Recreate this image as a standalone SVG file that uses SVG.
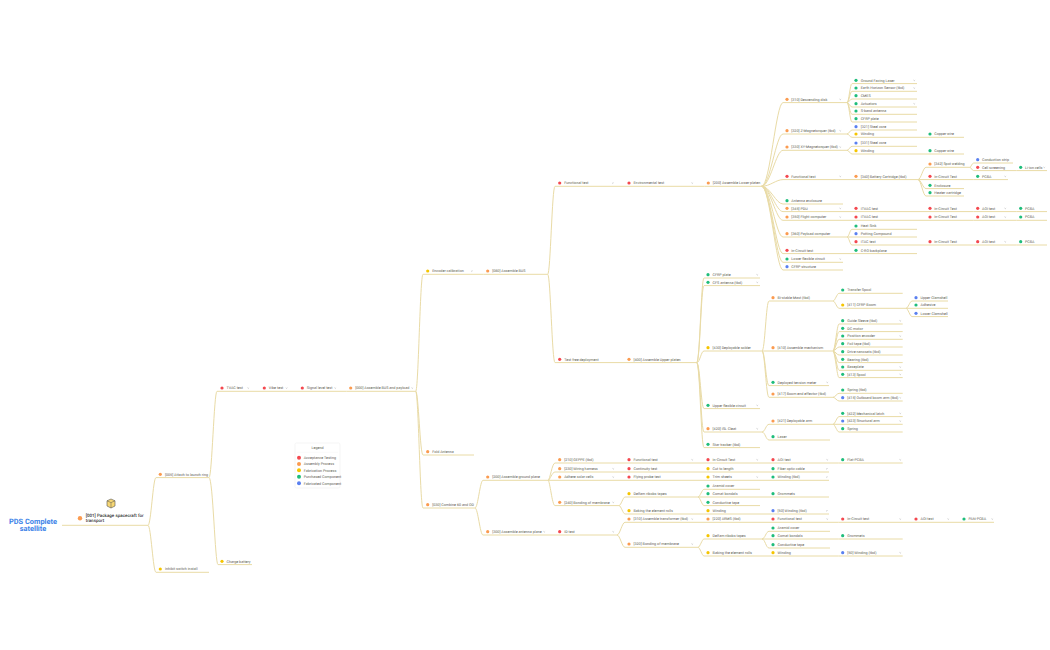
<svg xmlns="http://www.w3.org/2000/svg" width="1050" height="650" viewBox="0 0 1050 650">
<style>
text{font-family:Roboto,"Liberation Sans",sans-serif;font-size:3.7px;fill:#5f5f55;text-rendering:geometricPrecision}
path{fill:none}
.u,#connectors path{stroke:#e9dba6;stroke-width:1}
.c{stroke:#999;stroke-width:.45}
.r{fill:#f4484f}.o{fill:#fb9b50}.y{fill:#f5c500}.g{fill:#1fbd7b}.b{fill:#5a80f0}
#title text{font-size:7.4px;font-weight:700;fill:#3b82e8;text-anchor:middle}
#n001 text{font-size:4.5px;fill:#333;font-weight:500}
#box{fill:#f7d774;stroke:#555;stroke-width:.6}
#boxl{stroke:#555;stroke-width:.5}
</style>
<rect width="1050" height="650" fill="#fff"/>
<g id="connectors">
<path d="M148 525.3C151 525.3 153 477.6 156 477.6M148 525.3C151 525.3 153 572.3 156 572.3"/>
<path d="M209 477.6C212 477.6 214 391.3 217 391.3M209 477.6C213 477.6 215 564.6 218 564.6"/>
<path d="M415.7 391.3C418.5 391.3 420 274.3 423 274.3M415.7 391.3C418.5 391.3 420 455 423 455M415.7 391.3C418.5 391.3 420 508 423 508"/>
<path d="M547.7 274.3C550.5 274.3 552 186.3 555 186.3M547.7 274.3C550.5 274.3 552 362.6 555 362.6"/>
<path d="M761.7 186.3C770 186.3 776 102.6 783 102.6M761.7 186.3C770 186.3 776 134 783 134M761.7 186.3C770 186.3 776 150.3 783 150.3M761.7 186.3C770 186.3 776 179.6 783 179.6M761.7 186.3C770 186.3 776 204 783 204M761.7 186.3C770 186.3 776 211.6 783 211.6M761.7 186.3C770 186.3 776 220.3 783 220.3M761.7 186.3C770 186.3 776 237 783 237M761.7 186.3C770 186.3 776 253.6 783 253.6M761.7 186.3C770 186.3 776 262.3 783 262.3M761.7 186.3C770 186.3 776 270 783 270"/>
<path d="M847 102.6C849 102.6 850 83.6 852 83.6M847 102.6C849 102.6 850 91.3 852 91.3M847 102.6C849 102.6 850 99 852 99M847 102.6C849 102.6 850 107 852 107M847 102.6C849 102.6 850 114.3 852 114.3M847 102.6C849 102.6 850 122 852 122"/>
<path d="M847 134C849 134 850 130 852 130M847 134C849 134 850 137.3 852 137.3M847 150.3C849 150.3 850 146.3 852 146.3M847 150.3C849 150.3 850 154 852 154"/>
<path d="M918 179.6C921 179.6 923 167.3 926 167.3M918 179.6H926M918 179.6C921 179.6 923 188.6 926 188.6M918 179.6C921 179.6 923 196 926 196"/>
<path d="M970 167.3C971 167.3 972 163 973.7 163M970 167.3C971 167.3 972 170.6 973.7 170.6"/>
<path d="M847 237C849 237 850 229.3 852 229.3M847 237H852M847 237C849 237 850 245 852 245"/>
<path d="M696.7 362.6C700 362.6 701 278 704 278M696.7 362.6C700 362.6 701 285.6 704 285.6M696.7 362.6C700 362.6 701 351 704 351M696.7 362.6C700 362.6 701 408.6 704 408.6M696.7 362.6C700 362.6 701 432 704 432M696.7 362.6C700 362.6 701 447.6 704 447.6"/>
<path d="M762 351C765 351 766 301 769 301M762 351H769M762 351C765 351 766 385.6 769 385.6M762 351C765 351 766 397.3 769 397.3"/>
<path d="M833 301C835 301 837 293.3 839 293.3M833 301C835 301 837 308.3 839 308.3"/>
<path d="M906 308.3C908 308.3 910 301 912 301M906 308.3H912M906 308.3C908 308.3 910 316.6 912 316.6"/>
<path d="M833 351C835 351 837 324 839 324M833 351C835 351 837 331.6 839 331.6M833 351C835 351 837 339.3 839 339.3M833 351C835 351 837 347 839 347M833 351C835 351 837 355 839 355M833 351C835 351 837 362.6 839 362.6M833 351C835 351 837 370.3 839 370.3M833 351C835 351 837 377.6 839 377.6"/>
<path d="M833 397.3C835 397.3 837 393.3 839 393.3M833 397.3C835 397.3 837 401 839 401"/>
<path d="M762 432C765 432 766 424.3 769 424.3M762 432C765 432 766 440 769 440"/>
<path d="M833 424.3C835 424.3 837 416.6 839 416.6M833 424.3H839M833 424.3C835 424.3 837 432 839 432"/>
<path d="M475 508C478 508 480 480.3 483 480.3M475 508C478 508 480 535 483 535"/>
<path d="M548 480.3C550 480.3 552 463 555 463M548 480.3C550 480.3 552 472 555 472M548 480.3H555M548 480.3C550 480.3 552 505.6 555 505.6"/>
<path d="M619 505.6C621 505.6 623 497 625 497M619 505.6C621 505.6 623 514 625 514"/>
<path d="M698 497C700 497 702 489.3 704 489.3M698 497H704M698 497C700 497 702 505.6 704 505.6"/>
<path d="M617 535C620 535 622 522.3 625 522.3M617 535C620 535 622 547.3 625 547.3"/>
<path d="M698 547.3C700 547.3 702 539 704 539M698 547.3C700 547.3 702 556 704 556"/>
<path d="M762 539C765 539 766 531.3 769 531.3M762 539H769M762 539C765 539 766 548 769 548"/>
</g>
<g id="title"><text x="33" y="523.5">PDS Complete</text><text x="33" y="531">satellite</text></g>
<g id="n001"><path class="u" d="M62 525.3H148"/><path id="box" d="M107 500.8L111 499 115 500.8V506L111 508 107 506Z"/><path id="boxl" d="M107 500.8L111 502.6 115 500.8M111 502.6V508"/><circle class="o" cx="80" cy="518.3" r="2.2"/><text x="85.7" y="516.8">[001] Package spacecraft for</text><text x="85.7" y="522">transport</text></g>
<g id="nodes">
<g id="n2"><path class="u" d="M156 477.6H209"/><circle class="o" cx="160.3" cy="474.3" r="1.6"/><text x="165" y="475.5">[005] Attach to launch ring</text></g>
<g id="n3"><path class="u" d="M156 572.3H209"/><circle class="y" cx="160.3" cy="569" r="1.6"/><text x="165" y="570.2">Inhibit switch install</text></g>
<g id="n4"><path class="u" d="M218 564.6H252"/><circle class="y" cx="222" cy="561.3" r="1.6"/><text x="226.5" y="562.5">Charge battery</text></g>
<g id="n5"><path class="u" d="M217 391.3H260"/><circle class="r" cx="222" cy="388" r="1.6"/><text x="226.5" y="389.2">TVAC test</text><path class="c" d="M247.5 387.7l.8.7.8-.7"/></g>
<g id="n6"><path class="u" d="M260 391.3H298"/><circle class="r" cx="264.3" cy="388" r="1.6"/><text x="268.8" y="389.2">Vibe test</text><path class="c" d="M285.8 387.7l.8.7.8-.7"/></g>
<g id="n7"><path class="u" d="M298 391.3H346.7"/><circle class="r" cx="302.3" cy="388" r="1.6"/><text x="306.8" y="389.2">Signal level test</text><path class="c" d="M334.5 387.7l.8.7.8-.7"/></g>
<g id="n8"><path class="u" d="M346.7 391.3H415.7"/><circle class="o" cx="350.7" cy="388" r="1.6"/><text x="355.2" y="389.2">[000] Assemble BUS and payload</text><path class="c" d="M411.5 387.7l.8.7.8-.7"/></g>
<g id="n9"><path class="u" d="M423 274.3H483.7"/><circle class="y" cx="427.7" cy="271" r="1.6"/><text x="432.2" y="272.2">Encoder calibration</text><path class="c" d="M471 270.7l.8.7.8-.7"/></g>
<g id="n10"><path class="u" d="M423 455H474"/><circle class="o" cx="427.7" cy="451.7" r="1.6"/><text x="432.2" y="452.9">Fold Antenna</text></g>
<g id="n11"><path class="u" d="M423 508H475"/><circle class="o" cx="427.7" cy="504.7" r="1.6"/><text x="432.2" y="505.9">[030] Combine 60 and OD</text></g>
<g id="n12"><path class="u" d="M483.7 274.3H547.7"/><circle class="o" cx="487.7" cy="271" r="1.6"/><text x="492.2" y="272.2">[080] Assemble BUS</text></g>
<g id="n13"><path class="u" d="M555 186.3H625"/><circle class="r" cx="559.7" cy="183" r="1.6"/><text x="564.2" y="184.2">Functional test</text><path class="c" d="M612 182.7l.8.7.8-.7"/></g>
<g id="n14"><path class="u" d="M625 186.3H704.3"/><circle class="r" cx="629" cy="183" r="1.6"/><text x="633.5" y="184.2">Environmental test</text><path class="c" d="M691.5 182.7l.8.7.8-.7"/></g>
<g id="n15"><path class="u" d="M704.3 186.3H761.7"/><circle class="o" cx="708.3" cy="183" r="1.6"/><text x="712.8" y="184.2">[200] Assemble Lower platen</text></g>
<g id="n16"><path class="u" d="M555 362.6H625"/><circle class="r" cx="559.7" cy="359.3" r="1.6"/><text x="564.2" y="360.5">Test free deployment</text></g>
<g id="n17"><path class="u" d="M625 362.6H696.7"/><circle class="o" cx="629" cy="359.3" r="1.6"/><text x="633.5" y="360.5">[400] Assemble Upper platen</text></g>
<g id="n18"><path class="u" d="M783 102.6H847"/><circle class="o" cx="787" cy="99.3" r="1.6"/><text x="791.3" y="100.5">[310] Descending disk</text><path class="c" d="M839.5 99l.8.7.8-.7"/></g>
<g id="n19"><path class="u" d="M852 83.6H917"/><circle class="g" cx="856" cy="80.3" r="1.6"/><text x="860.7" y="81.5">Ground Facing Laser</text><path class="c" d="M913.5 80l.8.7.8-.7"/></g>
<g id="n20"><path class="u" d="M852 91.3H917"/><circle class="g" cx="856" cy="88" r="1.6"/><text x="860.7" y="89.2">Earth Horizon Sensor (tbd)</text><path class="c" d="M913.5 87.7l.8.7.8-.7"/></g>
<g id="n21"><path class="u" d="M852 99H917"/><circle class="g" cx="856" cy="95.7" r="1.6"/><text x="860.7" y="96.9">CMES</text></g>
<g id="n22"><path class="u" d="M852 107H917"/><circle class="g" cx="856" cy="103.7" r="1.6"/><text x="860.7" y="104.9">Actuators</text><path class="c" d="M913.5 103.4l.8.7.8-.7"/></g>
<g id="n23"><path class="u" d="M852 114.3H917"/><circle class="g" cx="856" cy="111" r="1.6"/><text x="860.7" y="112.2">S-band antenna</text></g>
<g id="n24"><path class="u" d="M852 122H917"/><circle class="g" cx="856" cy="118.7" r="1.6"/><text x="860.7" y="119.9">CFRP plate</text></g>
<g id="n25"><path class="u" d="M783 134H847"/><circle class="o" cx="787" cy="130.7" r="1.6"/><text x="791.3" y="131.9">[320] Z-Magnetorquer (tbd)</text><path class="c" d="M839.5 130.4l.8.7.8-.7"/></g>
<g id="n26"><path class="u" d="M852 130H917"/><circle class="b" cx="856" cy="126.7" r="1.6"/><text x="860.7" y="127.9">[321] Steel core</text></g>
<g id="n27"><path class="u" d="M852 137.3H926"/><circle class="y" cx="856" cy="134" r="1.6"/><text x="860.7" y="135.2">Winding</text></g>
<g id="n28"><path class="u" d="M926 137.3H964"/><circle class="g" cx="930" cy="134" r="1.6"/><text x="934.3" y="135.2">Copper wire</text></g>
<g id="n29"><path class="u" d="M783 150.3H847"/><circle class="o" cx="787" cy="147" r="1.6"/><text x="791.3" y="148.2">[330] XY-Magnetorquer (tbd)</text><path class="c" d="M839.5 146.7l.8.7.8-.7"/></g>
<g id="n30"><path class="u" d="M852 146.3H917"/><circle class="b" cx="856" cy="143" r="1.6"/><text x="860.7" y="144.2">[331] Steel core</text></g>
<g id="n31"><path class="u" d="M852 154H926"/><circle class="y" cx="856" cy="150.7" r="1.6"/><text x="860.7" y="151.9">Winding</text></g>
<g id="n32"><path class="u" d="M926 154H964"/><circle class="g" cx="930" cy="150.7" r="1.6"/><text x="934.3" y="151.9">Copper wire</text></g>
<g id="n33"><path class="u" d="M783 179.6H852"/><circle class="r" cx="787" cy="176.3" r="1.6"/><text x="791.3" y="177.5">Functional test</text><path class="c" d="M839.5 176l.8.7.8-.7"/></g>
<g id="n34"><path class="u" d="M852 179.6H918"/><circle class="o" cx="856" cy="176.3" r="1.6"/><text x="860.7" y="177.5">[340] Battery Cartridge (tbd)</text></g>
<g id="n35"><path class="u" d="M926 167.3H970"/><circle class="o" cx="930" cy="164" r="1.6"/><text x="934.3" y="165.2">[342] Spot welding</text></g>
<g id="n36"><path class="u" d="M973.7 163H1013"/><circle class="b" cx="977.7" cy="159.7" r="1.6"/><text x="982" y="160.9">Conduction strip</text></g>
<g id="n37"><path class="u" d="M973.7 170.6H1016.7"/><circle class="r" cx="977.7" cy="167.3" r="1.6"/><text x="982" y="168.5">Cell screening</text></g>
<g id="n38"><path class="u" d="M1016.7 170.6H1047"/><circle class="g" cx="1020.7" cy="167.3" r="1.6"/><text x="1025" y="168.5">Li-ion cells</text><path class="c" d="M1043.5 167l.8.7.8-.7"/></g>
<g id="n39"><path class="u" d="M926 179.6H973.7"/><circle class="r" cx="930" cy="176.3" r="1.6"/><text x="934.3" y="177.5">In-Circuit Test</text></g>
<g id="n40"><path class="u" d="M973.7 179.6H1008"/><circle class="g" cx="977.7" cy="176.3" r="1.6"/><text x="982" y="177.5">PCBA</text><path class="c" d="M1004.5 176l.8.7.8-.7"/></g>
<g id="n41"><path class="u" d="M926 188.6H964"/><circle class="g" cx="930" cy="185.3" r="1.6"/><text x="934.3" y="186.5">Enclosure</text></g>
<g id="n42"><path class="u" d="M926 196H964"/><circle class="g" cx="930" cy="192.7" r="1.6"/><text x="934.3" y="193.9">Heater cartridge</text></g>
<g id="n43"><path class="u" d="M783 204H843"/><circle class="g" cx="787" cy="200.7" r="1.6"/><text x="791.3" y="201.9">Antenna enclosure</text></g>
<g id="n44"><path class="u" d="M783 211.6H852"/><circle class="o" cx="787" cy="208.3" r="1.6"/><text x="791.3" y="209.5">[345] PDU</text><path class="c" d="M839.5 208l.8.7.8-.7"/></g>
<g id="n45"><path class="u" d="M852 211.6H926"/><circle class="r" cx="856" cy="208.3" r="1.6"/><text x="860.7" y="209.5">ITVAC test</text></g>
<g id="n46"><path class="u" d="M926 211.6H973.7"/><circle class="r" cx="930" cy="208.3" r="1.6"/><text x="934.3" y="209.5">In-Circuit Test</text></g>
<g id="n47"><path class="u" d="M973.7 211.6H1016.7"/><circle class="r" cx="977.7" cy="208.3" r="1.6"/><text x="982" y="209.5">AOI test</text><path class="c" d="M1004.5 208l.8.7.8-.7"/></g>
<g id="n48"><path class="u" d="M1016.7 211.6H1047"/><circle class="g" cx="1020.7" cy="208.3" r="1.6"/><text x="1025" y="209.5">PCBA</text></g>
<g id="n49"><path class="u" d="M783 220.3H852"/><circle class="o" cx="787" cy="217" r="1.6"/><text x="791.3" y="218.2">[350] Flight computer</text><path class="c" d="M839.5 216.7l.8.7.8-.7"/></g>
<g id="n50"><path class="u" d="M852 220.3H926"/><circle class="r" cx="856" cy="217" r="1.6"/><text x="860.7" y="218.2">ITVAC test</text></g>
<g id="n51"><path class="u" d="M926 220.3H973.7"/><circle class="r" cx="930" cy="217" r="1.6"/><text x="934.3" y="218.2">In-Circuit Test</text></g>
<g id="n52"><path class="u" d="M973.7 220.3H1016.7"/><circle class="r" cx="977.7" cy="217" r="1.6"/><text x="982" y="218.2">AOI test</text><path class="c" d="M1004.5 216.7l.8.7.8-.7"/></g>
<g id="n53"><path class="u" d="M1016.7 220.3H1047"/><circle class="g" cx="1020.7" cy="217" r="1.6"/><text x="1025" y="218.2">PCBA</text></g>
<g id="n54"><path class="u" d="M783 237H847"/><circle class="o" cx="787" cy="233.7" r="1.6"/><text x="791.3" y="234.9">[360] Payload computer</text></g>
<g id="n55"><path class="u" d="M852 229.3H917"/><circle class="g" cx="856" cy="226" r="1.6"/><text x="860.7" y="227.2">Heat Sink</text></g>
<g id="n56"><path class="u" d="M852 237H917"/><circle class="b" cx="856" cy="233.7" r="1.6"/><text x="860.7" y="234.9">Potting Compound</text></g>
<g id="n57"><path class="u" d="M852 245H926"/><circle class="r" cx="856" cy="241.7" r="1.6"/><text x="860.7" y="242.9">ITAC test</text></g>
<g id="n58"><path class="u" d="M926 245H973.7"/><circle class="r" cx="930" cy="241.7" r="1.6"/><text x="934.3" y="242.9">In-Circuit Test</text></g>
<g id="n59"><path class="u" d="M973.7 245H1016.7"/><circle class="r" cx="977.7" cy="241.7" r="1.6"/><text x="982" y="242.9">AOI test</text><path class="c" d="M1004.5 241.4l.8.7.8-.7"/></g>
<g id="n60"><path class="u" d="M1016.7 245H1047"/><circle class="g" cx="1020.7" cy="241.7" r="1.6"/><text x="1025" y="242.9">PCBA</text></g>
<g id="n61"><path class="u" d="M783 253.6H852"/><circle class="r" cx="787" cy="250.3" r="1.6"/><text x="791.3" y="251.5">In-Circuit test</text></g>
<g id="n62"><path class="u" d="M852 253.6H917"/><circle class="g" cx="856" cy="250.3" r="1.6"/><text x="860.7" y="251.5">C-RO backplane</text></g>
<g id="n63"><path class="u" d="M783 262.3H843"/><circle class="g" cx="787" cy="259" r="1.6"/><text x="791.3" y="260.2">Lower flexible circuit</text><path class="c" d="M839.5 258.7l.8.7.8-.7"/></g>
<g id="n64"><path class="u" d="M783 270H843"/><circle class="b" cx="787" cy="266.7" r="1.6"/><text x="791.3" y="267.9">CFRP structure</text></g>
<g id="n65"><path class="u" d="M704 278H760"/><circle class="g" cx="708" cy="274.7" r="1.6"/><text x="712.6" y="275.9">CFRP plate</text><path class="c" d="M756.5 274.4l.8.7.8-.7"/></g>
<g id="n66"><path class="u" d="M704 285.6H760"/><circle class="g" cx="708" cy="282.3" r="1.6"/><text x="712.6" y="283.5">CFS antenna (tbd)</text><path class="c" d="M756.5 282l.8.7.8-.7"/></g>
<g id="n67"><path class="u" d="M704 351H762"/><circle class="y" cx="708" cy="347.7" r="1.6"/><text x="712.6" y="348.9">[430] Deployable solder</text></g>
<g id="n68"><path class="u" d="M769 301H833"/><circle class="o" cx="773" cy="297.7" r="1.6"/><text x="777.6" y="298.9">Bi-stable Mast (tbd)</text></g>
<g id="n69"><path class="u" d="M839 293.3H902.7"/><circle class="g" cx="842.7" cy="290" r="1.6"/><text x="847.3" y="291.2">Transfer Spool</text></g>
<g id="n70"><path class="u" d="M839 308.3H906"/><circle class="y" cx="842.7" cy="305" r="1.6"/><text x="847.3" y="306.2">[411] CFRP Boom</text></g>
<g id="n71"><path class="u" d="M912 301H948"/><circle class="b" cx="916" cy="297.7" r="1.6"/><text x="920.5" y="298.9">Upper Clamshell</text></g>
<g id="n72"><path class="u" d="M912 308.3H948"/><circle class="g" cx="916" cy="305" r="1.6"/><text x="920.5" y="306.2">Adhesive</text></g>
<g id="n73"><path class="u" d="M912 316.6H948"/><circle class="b" cx="916" cy="313.3" r="1.6"/><text x="920.5" y="314.5">Lower Clamshell</text></g>
<g id="n74"><path class="u" d="M769 351H833"/><circle class="o" cx="773" cy="347.7" r="1.6"/><text x="777.6" y="348.9">[410] Assemble mechanism</text></g>
<g id="n75"><path class="u" d="M839 324H902.7"/><circle class="g" cx="842.7" cy="320.7" r="1.6"/><text x="847.3" y="321.9">Guide Sleeve (tbd)</text><path class="c" d="M899.5 320.4l.8.7.8-.7"/></g>
<g id="n76"><path class="u" d="M839 331.6H902.7"/><circle class="g" cx="842.7" cy="328.3" r="1.6"/><text x="847.3" y="329.5">DC motor</text></g>
<g id="n77"><path class="u" d="M839 339.3H902.7"/><circle class="g" cx="842.7" cy="336" r="1.6"/><text x="847.3" y="337.2">Position encoder</text><path class="c" d="M899.5 335.7l.8.7.8-.7"/></g>
<g id="n78"><path class="u" d="M839 347H902.7"/><circle class="g" cx="842.7" cy="343.7" r="1.6"/><text x="847.3" y="344.9">Foil tape (tbd)</text></g>
<g id="n79"><path class="u" d="M839 355H902.7"/><circle class="g" cx="842.7" cy="351.7" r="1.6"/><text x="847.3" y="352.9">Drive nanosats (tbd)</text></g>
<g id="n80"><path class="u" d="M839 362.6H902.7"/><circle class="g" cx="842.7" cy="359.3" r="1.6"/><text x="847.3" y="360.5">Bearing (tbd)</text></g>
<g id="n81"><path class="u" d="M839 370.3H902.7"/><circle class="g" cx="842.7" cy="367" r="1.6"/><text x="847.3" y="368.2">Baseplate</text><path class="c" d="M899.5 366.7l.8.7.8-.7"/></g>
<g id="n82"><path class="u" d="M839 377.6H902.7"/><circle class="g" cx="842.7" cy="374.3" r="1.6"/><text x="847.3" y="375.5">[413] Spool</text><path class="c" d="M899.5 374l.8.7.8-.7"/></g>
<g id="n83"><path class="u" d="M769 385.6H829"/><circle class="g" cx="773" cy="382.3" r="1.6"/><text x="777.6" y="383.5">Deployed tension meter</text><path class="c" d="M826.5 382l.8.7.8-.7"/></g>
<g id="n84"><path class="u" d="M769 397.3H833"/><circle class="o" cx="773" cy="394" r="1.6"/><text x="777.6" y="395.2">[417] Boom end effector (tbd)</text></g>
<g id="n85"><path class="u" d="M839 393.3H902.7"/><circle class="g" cx="842.7" cy="390" r="1.6"/><text x="847.3" y="391.2">Spring (tbd)</text></g>
<g id="n86"><path class="u" d="M839 401H902.7"/><circle class="b" cx="842.7" cy="397.7" r="1.6"/><text x="847.3" y="398.9">[415] Outboard boom arm (tbd)</text><path class="c" d="M899.5 397.4l.8.7.8-.7"/></g>
<g id="n87"><path class="u" d="M704 408.6H760"/><circle class="g" cx="708" cy="405.3" r="1.6"/><text x="712.6" y="406.5">Upper flexible circuit</text><path class="c" d="M756.5 405l.8.7.8-.7"/></g>
<g id="n88"><path class="u" d="M704 432H762"/><circle class="o" cx="708" cy="428.7" r="1.6"/><text x="712.6" y="429.9">[420] ISL Cleat</text><path class="c" d="M756.5 428.4l.8.7.8-.7"/></g>
<g id="n89"><path class="u" d="M769 424.3H833"/><circle class="o" cx="773" cy="421" r="1.6"/><text x="777.6" y="422.2">[421] Deployable arm</text></g>
<g id="n90"><path class="u" d="M769 440H830"/><circle class="g" cx="773" cy="436.7" r="1.6"/><text x="777.6" y="437.9">Laser</text></g>
<g id="n91"><path class="u" d="M839 416.6H902.7"/><circle class="g" cx="842.7" cy="413.3" r="1.6"/><text x="847.3" y="414.5">[422] Mechanical latch</text><path class="c" d="M899.5 413l.8.7.8-.7"/></g>
<g id="n92"><path class="u" d="M839 424.3H902.7"/><circle class="b" cx="842.7" cy="421" r="1.6"/><text x="847.3" y="422.2">[423] Structural arm</text><path class="c" d="M899.5 420.7l.8.7.8-.7"/></g>
<g id="n93"><path class="u" d="M839 432H902.7"/><circle class="g" cx="842.7" cy="428.7" r="1.6"/><text x="847.3" y="429.9">Spring</text></g>
<g id="n94"><path class="u" d="M704 447.6H760"/><circle class="g" cx="708" cy="444.3" r="1.6"/><text x="712.6" y="445.5">Star tracker (tbd)</text></g>
<g id="n95"><path class="u" d="M483 480.3H548"/><circle class="o" cx="487.7" cy="477" r="1.6"/><text x="492.2" y="478.2">[200] Assemble ground plane</text></g>
<g id="n96"><path class="u" d="M483 535H617"/><circle class="o" cx="487.7" cy="531.7" r="1.6"/><text x="492.2" y="532.9">[300] Assemble antenna plane</text><path class="c" d="M543.5 531.4l.8.7.8-.7"/></g>
<g id="n97"><path class="u" d="M555 463H625"/><circle class="o" cx="559.7" cy="459.7" r="1.6"/><text x="564.2" y="460.9">[210] GEPPE (tbd)</text></g>
<g id="n98"><path class="u" d="M555 472H625"/><circle class="o" cx="559.7" cy="468.7" r="1.6"/><text x="564.2" y="469.9">[230] Wiring harness</text><path class="c" d="M612.5 468.4l.8.7.8-.7"/></g>
<g id="n99"><path class="u" d="M555 480.3H625"/><circle class="o" cx="559.7" cy="477" r="1.6"/><text x="564.2" y="478.2">Adhere solar cells</text><path class="c" d="M612.5 476.7l.8.7.8-.7"/></g>
<g id="n100"><path class="u" d="M555 505.6H619"/><circle class="o" cx="559.7" cy="502.3" r="1.6"/><text x="564.2" y="503.5">[240] Bonding of membrane</text><path class="c" d="M612.5 502l.8.7.8-.7"/></g>
<g id="n101"><circle class="r" cx="559.7" cy="531.7" r="1.6"/><text x="564.2" y="532.9">ID test</text><path class="c" d="M612.5 531.4l.8.7.8-.7"/></g>
<g id="n102"><path class="u" d="M625 463H704"/><circle class="r" cx="629" cy="459.7" r="1.6"/><text x="633.5" y="460.9">Functional test</text><path class="c" d="M691.5 459.4l.8.7.8-.7"/></g>
<g id="n103"><path class="u" d="M704 463H769"/><circle class="r" cx="708" cy="459.7" r="1.6"/><text x="712.6" y="460.9">In-Circuit Test</text><path class="c" d="M756.5 459.4l.8.7.8-.7"/></g>
<g id="n104"><path class="u" d="M769 463H838.7"/><circle class="r" cx="773" cy="459.7" r="1.6"/><text x="777.6" y="460.9">AOI test</text><path class="c" d="M826.5 459.4l.8.7.8-.7"/></g>
<g id="n105"><path class="u" d="M838.7 463H902.7"/><circle class="g" cx="842.7" cy="459.7" r="1.6"/><text x="847.3" y="460.9">Flat-PCBA</text><path class="c" d="M899.5 459.4l.8.7.8-.7"/></g>
<g id="n106"><path class="u" d="M625 472H704"/><circle class="r" cx="629" cy="468.7" r="1.6"/><text x="633.5" y="469.9">Continuity test</text></g>
<g id="n107"><path class="u" d="M704 472H769"/><circle class="y" cx="708" cy="468.7" r="1.6"/><text x="712.6" y="469.9">Cut to length</text></g>
<g id="n108"><path class="u" d="M769 472H829"/><circle class="g" cx="773" cy="468.7" r="1.6"/><text x="777.6" y="469.9">Fiber optic cable</text><path class="c" d="M826 468.4l.8.7.8-.7"/></g>
<g id="n109"><path class="u" d="M625 480.3H704"/><circle class="r" cx="629" cy="477" r="1.6"/><text x="633.5" y="478.2">Flying probe test</text></g>
<g id="n110"><path class="u" d="M704 480.3H769"/><circle class="y" cx="708" cy="477" r="1.6"/><text x="712.6" y="478.2">Trim sheets</text><path class="c" d="M756.5 476.7l.8.7.8-.7"/></g>
<g id="n111"><path class="u" d="M769 480.3H829"/><circle class="g" cx="773" cy="477" r="1.6"/><text x="777.6" y="478.2">Winding (tbd)</text><path class="c" d="M826 476.7l.8.7.8-.7"/></g>
<g id="n112"><path class="u" d="M625 497H698"/><circle class="y" cx="629" cy="493.7" r="1.6"/><text x="633.5" y="494.9">Delfam ribobs tapes</text></g>
<g id="n113"><path class="u" d="M704 489.3H760"/><circle class="g" cx="708" cy="486" r="1.6"/><text x="712.6" y="487.2">Aramid cover</text></g>
<g id="n114"><path class="u" d="M704 497H769"/><circle class="g" cx="708" cy="493.7" r="1.6"/><text x="712.6" y="494.9">Comat bondals</text></g>
<g id="n115"><path class="u" d="M769 497H829"/><circle class="g" cx="773" cy="493.7" r="1.6"/><text x="777.6" y="494.9">Grommets</text></g>
<g id="n116"><path class="u" d="M704 505.6H760"/><circle class="g" cx="708" cy="502.3" r="1.6"/><text x="712.6" y="503.5">Conductive tape</text></g>
<g id="n117"><path class="u" d="M625 514H704"/><circle class="y" cx="629" cy="510.7" r="1.6"/><text x="633.5" y="511.9">Baking the element rolls</text></g>
<g id="n118"><path class="u" d="M704 514H769"/><circle class="y" cx="708" cy="510.7" r="1.6"/><text x="712.6" y="511.9">Winding</text></g>
<g id="n119"><path class="u" d="M769 514H829"/><circle class="b" cx="773" cy="510.7" r="1.6"/><text x="777.6" y="511.9">[50] Winding (tbd)</text><path class="c" d="M826 510.4l.8.7.8-.7"/></g>
<g id="n120"><path class="u" d="M625 522.3H704"/><circle class="o" cx="629" cy="519" r="1.6"/><text x="633.5" y="520.2">[310] Assemble transformer (tbd)</text><path class="c" d="M691.5 518.7l.8.7.8-.7"/></g>
<g id="n121"><path class="u" d="M704 522.3H769"/><circle class="o" cx="708" cy="519" r="1.6"/><text x="712.6" y="520.2">[220] ARMS (tbd)</text></g>
<g id="n122"><path class="u" d="M769 522.3H838.7"/><circle class="r" cx="773" cy="519" r="1.6"/><text x="777.6" y="520.2">Functional test</text><path class="c" d="M826.5 518.7l.8.7.8-.7"/></g>
<g id="n123"><path class="u" d="M838.7 522.3H912"/><circle class="r" cx="842.7" cy="519" r="1.6"/><text x="847.3" y="520.2">In-Circuit test</text><path class="c" d="M899.5 518.7l.8.7.8-.7"/></g>
<g id="n124"><path class="u" d="M912 522.3H960"/><circle class="r" cx="916" cy="519" r="1.6"/><text x="920.5" y="520.2">AOI test</text><path class="c" d="M947.5 518.7l.8.7.8-.7"/></g>
<g id="n125"><path class="u" d="M960 522.3H994"/><circle class="g" cx="964" cy="519" r="1.6"/><text x="968.5" y="520.2">PAN-PCBA</text><path class="c" d="M991.5 518.7l.8.7.8-.7"/></g>
<g id="n126"><path class="u" d="M625 547.3H698"/><circle class="o" cx="629" cy="544" r="1.6"/><text x="633.5" y="545.2">[320] Bonding of membrane</text><path class="c" d="M691.5 543.7l.8.7.8-.7"/></g>
<g id="n127"><path class="u" d="M704 539H762"/><circle class="y" cx="708" cy="535.7" r="1.6"/><text x="712.6" y="536.9">Delfam ribobs tapes</text></g>
<g id="n128"><path class="u" d="M769 531.3H830"/><circle class="g" cx="773" cy="528" r="1.6"/><text x="777.6" y="529.2">Aramid cover</text></g>
<g id="n129"><path class="u" d="M769 539H838.7"/><circle class="g" cx="773" cy="535.7" r="1.6"/><text x="777.6" y="536.9">Comat bondals</text></g>
<g id="n130"><path class="u" d="M838.7 539H902.7"/><circle class="g" cx="842.7" cy="535.7" r="1.6"/><text x="847.3" y="536.9">Grommets</text></g>
<g id="n131"><path class="u" d="M769 548H830"/><circle class="g" cx="773" cy="544.7" r="1.6"/><text x="777.6" y="545.9">Conductive tape</text></g>
<g id="n132"><path class="u" d="M704 556H769"/><circle class="y" cx="708" cy="552.7" r="1.6"/><text x="712.6" y="553.9">Baking the element rolls</text></g>
<g id="n133"><path class="u" d="M769 556H838.7"/><circle class="y" cx="773" cy="552.7" r="1.6"/><text x="777.6" y="553.9">Winding</text></g>
<g id="n134"><path class="u" d="M838.7 556H902.7"/><circle class="b" cx="842.7" cy="552.7" r="1.6"/><text x="847.3" y="553.9">[50] Winding (tbd)</text><path class="c" d="M899.5 552.4l.8.7.8-.7"/></g>
</g>
<g id="legend">
<rect x="295" y="443" width="45" height="45" rx="1.5" fill="#fff" stroke="#eee" stroke-width=".6"/>
<path d="M297 452.3H338" stroke="#f4f4f4" stroke-width=".5"/>
<text x="317.5" y="449" text-anchor="middle">Legend</text>
<circle class="r" cx="299" cy="457.7" r="2"/><text x="303.7" y="458.9">Acceptance Testing</text>
<circle class="o" cx="299" cy="464" r="2"/><text x="303.7" y="465.2">Assembly Process</text>
<circle class="y" cx="299" cy="470.3" r="2"/><text x="303.7" y="471.5">Fabrication Process</text>
<circle class="g" cx="299" cy="476.7" r="2"/><text x="303.7" y="477.9">Purchased Component</text>
<circle class="b" cx="299" cy="483.3" r="2"/><text x="303.7" y="484.5">Fabricated Component</text>
</g>
</svg>
